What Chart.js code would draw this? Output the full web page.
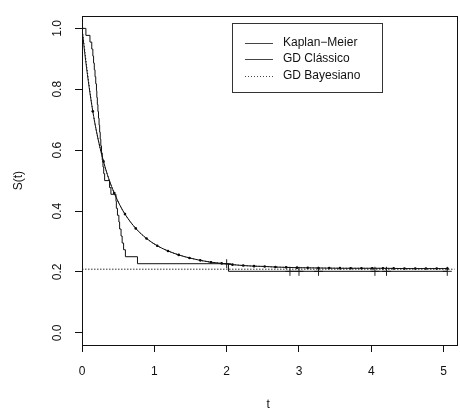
<!DOCTYPE html>
<html>
<head>
<meta charset="utf-8">
<script src="https://cdn.jsdelivr.net/npm/chart.js@4.4.1/dist/chart.umd.min.js"></script>
<style>
  body { margin: 0; background: #fff; }
</style>
</head>
<body>
<canvas id="grafico" width="460" height="412"></canvas>
<script>
// ========================
// Dados
// ========================

// Kaplan-Meier (degraus)
const tempoKM = [0, 0.054, 0.11, 0.135, 0.15, 0.16, 0.17, 0.18, 0.19, 0.2, 0.205, 0.212, 0.22, 0.228,
  0.236, 0.244, 0.252, 0.26, 0.27, 0.28, 0.29, 0.3, 0.313, 0.381, 0.4, 0.47, 0.475, 0.49, 0.51,
  0.52, 0.54, 0.555, 0.575, 0.6, 0.767, 2.025, 5.05];
const survKM = [1.0, 0.977, 0.955, 0.932, 0.909, 0.886, 0.864, 0.841, 0.818, 0.795, 0.773, 0.75, 0.727, 0.705,
  0.682, 0.659, 0.636, 0.614, 0.591, 0.568, 0.545, 0.523, 0.5, 0.477, 0.455, 0.432, 0.409, 0.386, 0.364,
  0.341, 0.318, 0.295, 0.273, 0.25, 0.227, 0.202, 0.202];

// censuras (+)
const tempoCens = [2.0, 2.875, 3.0, 3.27, 4.05, 4.21, 5.05];
const survCens = [0.227, 0.202, 0.202, 0.202, 0.202, 0.202, 0.202];

// Gompertz defectiva clássico
const tempoClassico = [0, 0.05, 0.1, 0.149, 0.2, 0.25, 0.297, 0.37, 0.446, 0.52, 0.594, 0.743, 0.892, 1.04,
  1.189, 1.337, 1.486, 1.635, 1.783, 1.932, 2.08, 2.229, 2.378, 2.526, 2.675, 2.823, 2.972, 3.27, 3.566,
  3.863, 4.16, 4.458, 4.755, 5.052];
const survClassico = [1.0, 0.895, 0.805, 0.728, 0.662, 0.607, 0.563, 0.506, 0.459, 0.421, 0.39, 0.343, 0.31, 0.286,
  0.269, 0.256, 0.246, 0.238, 0.232, 0.228, 0.224, 0.221, 0.219, 0.218, 0.216, 0.215, 0.214, 0.213, 0.212,
  0.212, 0.212, 0.211, 0.211, 0.211];

// Gompertz defectiva bayesiano
const tempoBayes = [0, 0.149, 0.297, 0.446, 0.594, 0.743, 0.892, 1.04, 1.189, 1.337, 1.486, 1.635, 1.783, 1.932,
  2.08, 2.229, 2.378, 2.526, 2.675, 2.823, 2.972, 3.121, 3.269, 3.418, 3.566, 3.715, 3.864, 4.012, 4.161,
  4.309, 4.458, 4.607, 4.755, 4.904, 5.052];
const survBayes = [1.0, 0.728, 0.563, 0.459, 0.39, 0.343, 0.31, 0.286, 0.269, 0.256, 0.246, 0.238, 0.232, 0.228,
  0.224, 0.221, 0.219, 0.218, 0.216, 0.215, 0.214, 0.2135, 0.213, 0.2127, 0.2124, 0.2121, 0.212, 0.2118, 0.2117,
  0.2116, 0.2115, 0.2115, 0.2114, 0.2114, 0.2114];

// fração de cura (linha pontilhada horizontal)
const tempoCura = [0, 5.2];
const survCura = [0.209, 0.209];

// eixos
const ticksX = [0, 1, 2, 3, 4, 5];
const ticksY = [0, 0.2, 0.4, 0.6, 0.8, 1.0];

const pontos = (xs, ys) => xs.map((x, i) => ({ x: x, y: ys[i] }));

// ========================
// Plugins
// ========================

const fonte = '"Liberation Sans", Arial, Helvetica, sans-serif';

const caixa = {
  id: 'caixa',
  afterDatasetsDraw(chart) {
    const a = chart.chartArea;
    const ctx = chart.ctx;
    ctx.save();
    ctx.strokeStyle = '#111';
    ctx.lineWidth = 1;
    ctx.strokeRect(Math.round(a.left) + 0.5, Math.round(a.top) + 0.5,
      Math.round(a.right - a.left) + 2, Math.round(a.bottom - a.top));
    ctx.restore();
  }
};

const legenda = {
  id: 'legenda',
  afterDraw(chart) {
    const ctx = chart.ctx;
    const itens = chart.data.datasets.filter(d => d.naLegenda);
    ctx.save();
    ctx.fillStyle = '#fff';
    ctx.fillRect(232.5, 23.5, 150, 69);
    ctx.strokeStyle = '#333';
    ctx.lineWidth = 1;
    ctx.strokeRect(232.5, 23.5, 150, 69);
    ctx.font = '12px ' + fonte;
    ctx.textBaseline = 'middle';
    itens.forEach((d, i) => {
      const y = 42.5 + i * 16.5;
      ctx.strokeStyle = '#444';
      ctx.setLineDash(d.borderDash || []);
      ctx.beginPath();
      ctx.moveTo(245, Math.round(y) + 0.5);
      ctx.lineTo(273, Math.round(y) + 0.5);
      ctx.stroke();
      ctx.setLineDash([]);
      ctx.fillStyle = '#111';
      ctx.fillText(d.label, 283, y);
    });
    ctx.restore();
  }
};

// ========================
// Gráfico
// ========================

const ctx = document.getElementById('grafico').getContext('2d');

new Chart(ctx, {
  type: 'line',
  data: {
    datasets: [
      {
        label: 'Kaplan\u2212Meier',
        naLegenda: true,
        data: pontos(tempoKM, survKM),
        stepped: true,
        borderColor: '#111',
        borderWidth: 1,
        pointRadius: 0
      },
      {
        label: 'GD Cl\u00e1ssico',
        naLegenda: true,
        data: pontos(tempoClassico, survClassico),
        cubicInterpolationMode: 'monotone',
        borderColor: '#111',
        borderWidth: 1,
        pointRadius: 0
      },
      {
        label: 'GD Bayesiano',
        naLegenda: true,
        data: pontos(tempoBayes, survBayes),
        cubicInterpolationMode: 'monotone',
        borderColor: '#111',
        borderWidth: 1,
        borderDash: [1, 2],
        pointRadius: 1.3,
        pointBorderWidth: 0,
        pointBackgroundColor: '#000'
      },
      {
        label: 'cura',
        data: pontos(tempoCura, survCura),
        borderColor: '#333',
        borderWidth: 1,
        borderDash: [1.5, 1.5],
        pointRadius: 0
      },
      {
        label: 'censura',
        data: pontos(tempoCens, survCens),
        showLine: false,
        pointStyle: 'cross',
        pointRadius: 4.5,
        pointBorderWidth: 1,
        pointBorderColor: '#222'
      }
    ]
  },
  options: {
    responsive: false,
    animation: false,
    devicePixelRatio: 1,
    layout: { padding: { top: 12, right: 0, bottom: 0, left: 0 } },
    plugins: {
      legend: { display: false },
      tooltip: { enabled: false }
    },
    scales: {
      x: {
        type: 'linear',
        min: 0,
        max: 5.15,
        afterBuildTicks: s => { s.ticks = ticksX.map(v => ({ value: v })); },
        afterFit: s => { s.height = 67; },
        grid: { drawOnChartArea: false, tickLength: 7, tickColor: '#111', color: '#111' },
        border: { color: '#111', width: 1 },
        ticks: {
          color: '#111',
          padding: 12,
          maxRotation: 0,
          font: { family: fonte, size: 12 },
          callback: v => String(v)
        },
        title: {
          display: true,
          text: 't',
          color: '#111',
          padding: { top: 0, bottom: 0 },
          font: { family: fonte, size: 12 }
        }
      },
      y: {
        type: 'linear',
        min: -0.04,
        max: 1.04,
        afterBuildTicks: s => { s.ticks = ticksY.map(v => ({ value: v })); },
        afterFit: s => { s.width = 82; },
        grid: { drawOnChartArea: false, tickLength: 7, tickColor: '#111', color: '#111' },
        border: { color: '#111', width: 1 },
        ticks: {
          color: '#111',
          padding: 9,
          minRotation: 90,
          maxRotation: 90,
          crossAlign: 'center',
          font: { family: fonte, size: 12 },
          callback: v => v.toFixed(1)
        },
        title: {
          display: true,
          text: 'S(t)',
          color: '#111',
          padding: { top: 11, bottom: 0 },
          font: { family: fonte, size: 12 }
        }
      }
    }
  },
  plugins: [caixa, legenda]
});
</script>
</body>
</html>
